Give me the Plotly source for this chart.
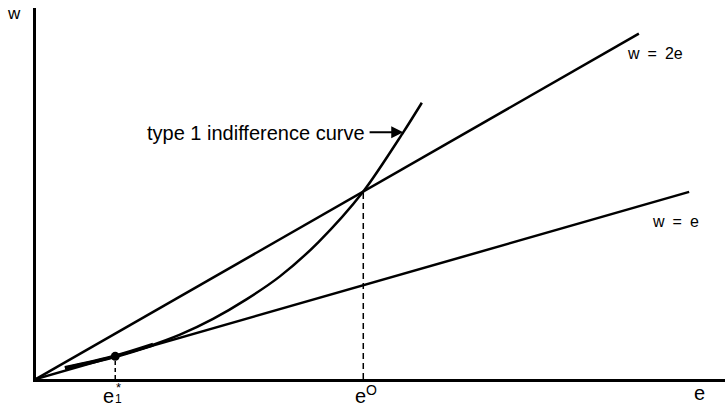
import plotly.graph_objects as go

# Data (e, w units)
line1_e = [0.0, 9.48]            # w = e
line1_w = [e for e in line1_e]
line2_e = [0.0, 8.75]            # w = 2e
line2_w = [2 * e for e in line2_e]

curve_e = [0.42, 1.15, 1.60, 2.09, 2.57, 3.06, 3.54, 4.10, 4.75, 5.33, 5.60]
curve_w = [0.56, 1.15, 1.62, 2.25, 3.05, 4.05, 5.20, 6.94, 9.50, 12.50, 14.0]

tangent_e = [0.42, 1.15, 1.70]
tangent_w = [0.56, 1.15, 1.74]

e1_star = 1.15
e0 = 4.75

FONT = "Liberation Sans, Arial, Helvetica, sans-serif"

fig = go.Figure()
fig.add_trace(go.Scatter(x=line1_e, y=line1_w, mode="lines",
                         line=dict(color="black", width=2.5), hoverinfo="skip"))
fig.add_trace(go.Scatter(x=line2_e, y=line2_w, mode="lines",
                         line=dict(color="black", width=2.5), hoverinfo="skip"))
fig.add_trace(go.Scatter(x=curve_e, y=curve_w, mode="lines",
                         line=dict(color="black", width=2.5, shape="spline", smoothing=0.8),
                         hoverinfo="skip"))
fig.add_trace(go.Scatter(x=tangent_e, y=tangent_w, mode="lines",
                         line=dict(color="black", width=4, shape="spline"), hoverinfo="skip"))
fig.add_trace(go.Scatter(x=[e1_star, e1_star], y=[0, e1_star], mode="lines",
                         line=dict(color="black", width=1.5, dash="4px,3px"), hoverinfo="skip"))
fig.add_trace(go.Scatter(x=[e0, e0], y=[0, 2 * e0], mode="lines",
                         line=dict(color="black", width=1.5, dash="6px,4px"), hoverinfo="skip"))
fig.add_trace(go.Scatter(x=[e1_star], y=[e1_star], mode="markers",
                         marker=dict(color="black", size=9), hoverinfo="skip"))

def px(x, y, s, size, xanchor="center"):
    # place text by picture pixel position (converted to paper coords)
    return dict(x=(x - 36) / 689, y=(379 - y) / 371, xref="paper", yref="paper",
                text=s, showarrow=False, xanchor=xanchor, yanchor="middle",
                font=dict(family=FONT, size=size, color="black"))

def label(x, y, s, size, xanchor="center"):
    return dict(x=x, y=y, xref="x", yref="y", text=s, showarrow=False,
                xanchor=xanchor, yanchor="middle",
                font=dict(family=FONT, size=size, color="black"))

SP = "\u2002"
ann = [
    px(14, 13, "w", 17),
    px(699, 393, "e", 20),
    px(108, 396, "e", 20),
    px(118, 399, "1", 12),
    px(118, 387, "*", 13),
    px(360, 396, "e", 20),
    px(371, 390, "O", 14),
    label(8.55, 16.47, f"w{SP}={SP}2e", 16, "left"),
    label(8.91, 7.96, f"w{SP}={SP}e", 16, "left"),
    label(4.80, 12.45, "type 1 indifference curve", 20, "right"),
    dict(x=5.33, y=12.5, ax=4.82, ay=12.5, xref="x", yref="y", axref="x", ayref="y",
         text="", showarrow=True, arrowhead=2, arrowsize=1.2, arrowwidth=2, arrowcolor="black"),
]

fig.update_layout(
    width=725, height=406,
    margin=dict(l=36, r=0, t=8, b=27),
    paper_bgcolor="white", plot_bgcolor="white",
    showlegend=False,
    xaxis=dict(range=[0, 10], showgrid=False, zeroline=False, showticklabels=False,
               ticks="", showline=True, linecolor="black", linewidth=3),
    yaxis=dict(range=[0, 18.8], showgrid=False, zeroline=False, showticklabels=False,
               ticks="", showline=True, linecolor="black", linewidth=3),
    annotations=ann,
)

fig.write_html("out.html", config={"displayModeBar": False},
               post_script="document.body.style.margin='0';document.body.style.overflow='hidden';")
